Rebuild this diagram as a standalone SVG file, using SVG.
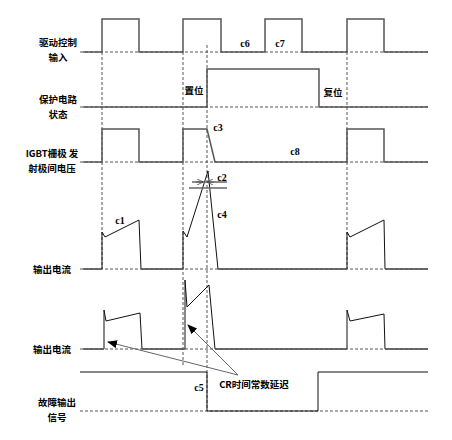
<svg xmlns="http://www.w3.org/2000/svg" width="452" height="440" viewBox="0 0 452 440">
<style>
.bg{fill:#fff}
.lbl{font-family:"Noto Sans CJK SC","Liberation Sans",sans-serif;font-size:9.5px;font-weight:bold;fill:#000;text-anchor:middle}
.c{font-family:"Liberation Serif",serif;font-size:10px;font-weight:bold;fill:#000;text-anchor:middle}
.dash{stroke:#555;stroke-width:1;stroke-dasharray:3,2;fill:none}
.sig{stroke:#555;stroke-width:1.5;fill:none}
.cur{stroke:#111;stroke-width:1;fill:none}
.ptr{stroke:#666;stroke-width:1;fill:none}
</style>
<defs>
<marker id="ah" markerWidth="10" markerHeight="8" refX="9" refY="4" orient="auto" markerUnits="userSpaceOnUse">
<path d="M0,0 L10,4 L0,8 Z" fill="#000"/>
</marker>
<marker id="sa" markerWidth="6" markerHeight="6" refX="6" refY="3" orient="auto" markerUnits="userSpaceOnUse">
<path d="M0,0 L6,3 L0,6" fill="none" stroke="#444" stroke-width="0.8"/>
</marker>
</defs>
<rect class="bg" x="0" y="0" width="452" height="440"/>

<g id="grid">
<line class="dash" x1="80" y1="52" x2="428" y2="52"/>
<line class="dash" x1="80" y1="107" x2="428" y2="107"/>
<line class="dash" x1="80" y1="162" x2="428" y2="162"/>
<line class="dash" x1="80" y1="269" x2="428" y2="269"/>
<line class="dash" x1="80" y1="349" x2="428" y2="349"/>
<line class="dash" x1="80" y1="411" x2="428" y2="411"/>
<line class="dash" x1="102" y1="52" x2="102" y2="269"/>
<line class="dash" x1="183" y1="52" x2="183" y2="365"/>
<line class="dash" x1="207" y1="45" x2="207" y2="411"/>
<line class="dash" x1="347" y1="52" x2="347" y2="269"/>
</g>

<g id="drive">
<text class="lbl" x="58" y="46">驱动控制</text>
<text class="lbl" x="58" y="61">输入</text>
<path class="sig" d="M83,52 H102 V19 H139 V52 H183 V19 H221 V52 H265 V19 H302 V52 H347 V19 H384 V52 H428"/>
<text class="c" x="245" y="47">c6</text>
<text class="c" x="280" y="47">c7</text>
</g>

<g id="protect">
<text class="lbl" x="58" y="103">保护电路</text>
<text class="lbl" x="58" y="118">状态</text>
<path class="sig" d="M83,107 H207 V69 H319 V107 H428"/>
<text class="lbl" x="194" y="94">置位</text>
<text class="lbl" x="333" y="96">复位</text>
</g>

<g id="igbt">
<text class="lbl" x="52" y="157">IGBT栅极 发</text>
<text class="lbl" x="52" y="172">射极间电压</text>
<path class="sig" d="M83,162 H102 V129 H139 V162 H183 V129 H207 L215,162 H347 V129 H384 V162 H428"/>
<text class="c" x="218" y="131">c3</text>
<text class="c" x="295" y="155">c8</text>
</g>

<g id="current1">
<text class="lbl" x="52" y="273">输出电流</text>
<path class="cur" d="M83,269 H102 V232 L105,237 L139,220 L141,269 H183 V231 L187,237 L208,171 L218,269 H347 V232 L350,237 L384,220 L385,269 H428"/>
<path d="M83,269 H102 M141,269 H183 M218,269 H347 M385,269 H428" stroke="#666" stroke-width="1.5" fill="none"/>
<line x1="192" y1="182" x2="227" y2="182" stroke="#666" stroke-width="1.5"/>
<line x1="189" y1="188" x2="227" y2="188" stroke="#666" stroke-width="1.5"/>
<line x1="196" y1="182" x2="203" y2="182" stroke="#444" stroke-width="0.8" marker-end="url(#sa)"/>
<line x1="214" y1="182" x2="207" y2="182" stroke="#444" stroke-width="0.8" marker-end="url(#sa)"/>
<text class="c" x="120" y="224">c1</text>
<text class="c" x="222" y="181">c2</text>
<text class="c" x="222" y="218">c4</text>
</g>

<g id="current2">
<text class="lbl" x="52" y="353">输出电流</text>
<path class="cur" d="M83,349 H104 V310 L106,321 L140,313 L142,349 H185 V280 L187,307 L209,285 L215,349 H347 V310 L350,321 L384,314 L385,349 H428"/>
<path d="M83,349 H104 M142,349 H185 M215,349 H347 M385,349 H428" stroke="#666" stroke-width="1.5" fill="none"/>
</g>

<g id="fault">
<text class="lbl" x="57" y="406">故障输出</text>
<text class="lbl" x="57" y="421">信号</text>
<path class="cur" d="M80,372 H207 V411 H318 V372 H428" stroke-width="1.2"/>
<text class="c" x="199" y="391">c5</text>
</g>

<g id="connectors">
<line class="ptr" x1="238" y1="375" x2="108" y2="342" marker-end="url(#ah)"/>
<line class="ptr" x1="238" y1="375" x2="188" y2="325" marker-end="url(#ah)"/>
</g>
<g id="note">
<text class="lbl" x="254" y="388">CR时间常数延迟</text>
</g>
</svg>
